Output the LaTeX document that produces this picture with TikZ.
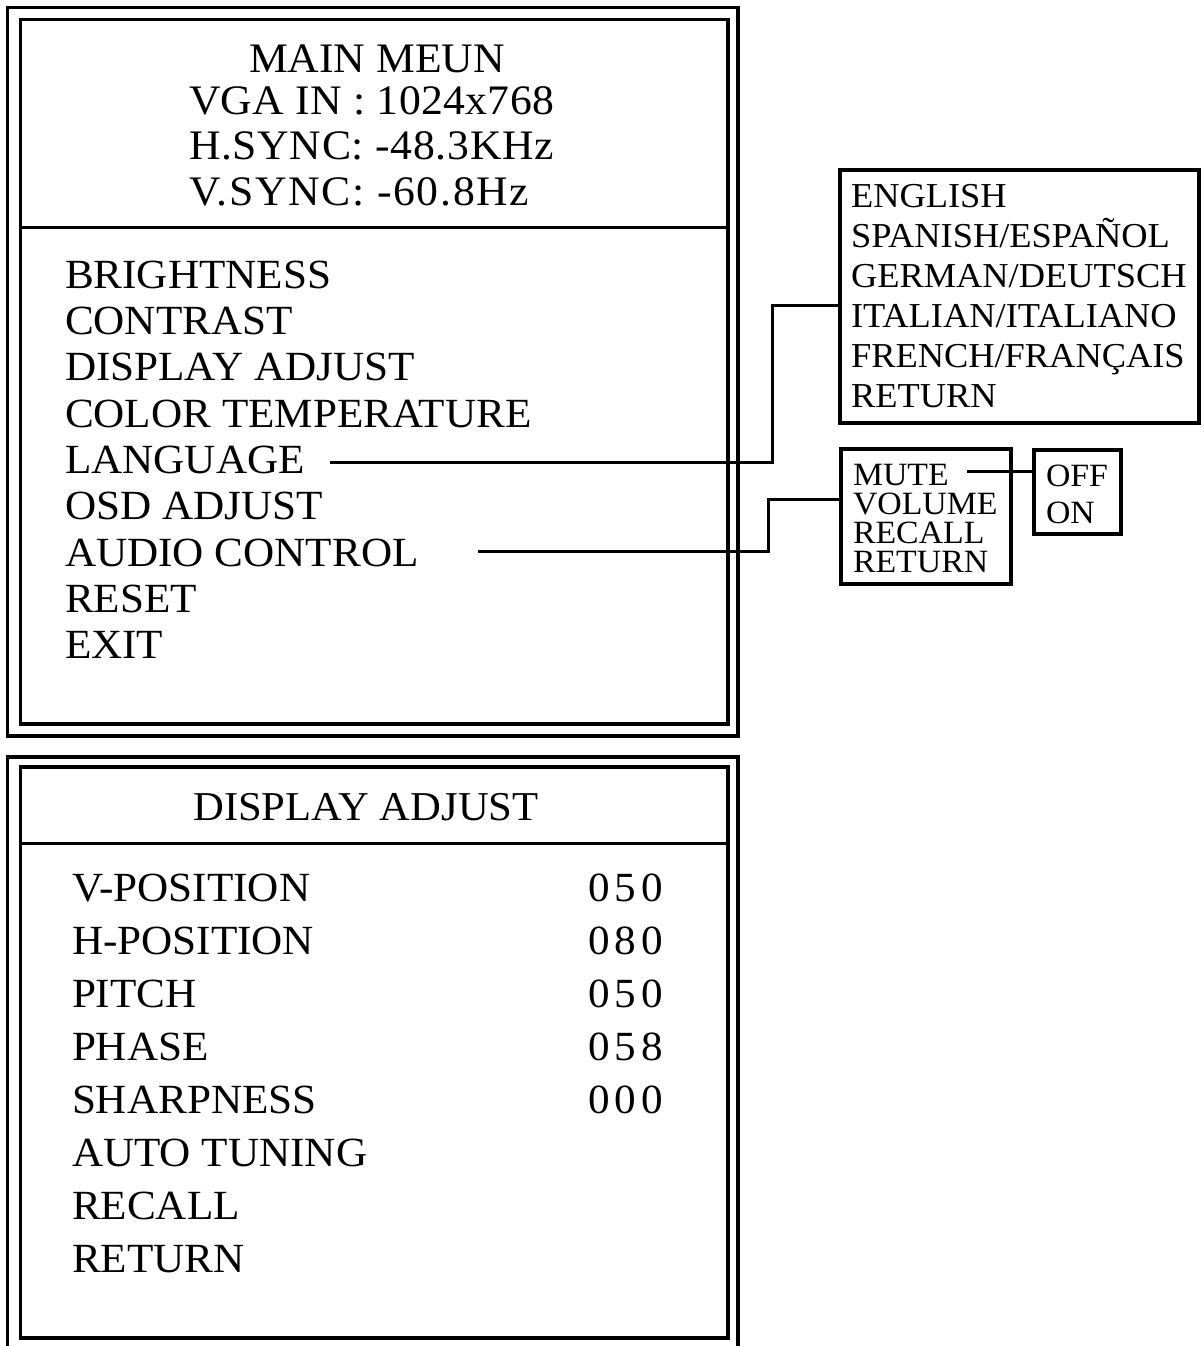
\documentclass[tikz,border=0pt]{standalone}
\usepackage{fontspec}
\setmainfont{Liberation Serif}[FakeStretch=1.04]
\newcommand\digs[3]{#1\kern5pt#2\kern5pt#3}
\begin{document}
\begin{tikzpicture}[x=1pt,y=-1pt,line width=3pt,
  frame/.style={draw,line width=3.2pt,inner sep=0pt,outer sep=0pt,anchor=north west},
  txt/.style={anchor=base west,inner sep=0pt,outer sep=0pt},
  hdr/.style={txt,font=\fontsize{42}{42}\selectfont},
  item/.style={txt,font=\fontsize{41.5}{41.5}\selectfont},
  lang/.style={txt,font=\fontsize{35}{35}\selectfont},
  aud/.style={txt,font=\fontsize{32.5}{32.5}\selectfont},
  link/.style={draw,line width=3pt}]
\useasboundingbox (0,0) rectangle (1204,1346);
\fill[white] (0,0) rectangle (1204,1346);

% ---------- main menu ----------
\node[frame,minimum width=730.5pt,minimum height=728.5pt] (mainout) at (7.5,7.5) {};
\node[frame,minimum width=707.5pt,minimum height=704.5pt] (mainin) at (20.5,19.5) {};
\coordinate (d1) at (0,227);
\draw (mainin.west |- d1) -- (mainin.east |- d1);

\node[hdr,anchor=base] (title) at (377,72) {MAIN MEUN};
\node[hdr] (vga) at (189,114) {\addfontfeature{LetterSpace=0.9}VGA IN : 1024x768};
\node[hdr] (hs) at (189,159) {\addfontfeature{LetterSpace=1.6}H.SYNC: -48.3KHz};
\node[hdr] (vs) at (189,205) {\addfontfeature{LetterSpace=4}V.SYNC: -60.8Hz};

\node[item] (m1) at (65,288) {BRIGHTNESS};
\node[item] (m2) at (65,334.3) {CONTRAST};
\node[item] (m3) at (65,380.7) {DISPLAY ADJUST};
\node[item] (m4) at (65,427) {COLOR TEMPERATURE};
\node[item] (m5) at (65,473.3) {LANGUAGE};
\node[item] (m6) at (65,519.7) {OSD ADJUST};
\node[item] (m7) at (65,566) {AUDIO CONTROL};
\node[item] (m8) at (65,612.3) {RESET};
\node[item] (m9) at (65,658.7) {EXIT};

% ---------- language box ----------
\node[frame,minimum width=359pt,minimum height=253pt] (langbox) at (840,170) {};
\node[lang] (l1) at (851,207) {ENGLISH};
\node[lang] (l2) at (851,247) {SPANISH/ESPAÑOL};
\node[lang] (l3) at (851,287) {GERMAN/DEUTSCH};
\node[lang] (l4) at (851,327) {ITALIAN/ITALIANO};
\node[lang] (l5) at (851,367) {FRENCH/FRANÇAIS};
\node[lang] (l6) at (851,407) {RETURN};

% ---------- audio box ----------
\node[frame,minimum width=170pt,minimum height=135pt] (audbox) at (841,449) {};
\node[aud] (a1) at (853,485) {MUTE};
\node[aud] (a2) at (853,514) {VOLUME};
\node[aud] (a3) at (853,543) {RECALL};
\node[aud] (a4) at (853,572) {RETURN};

\node[frame,minimum width=87pt,minimum height=84pt] (onoff) at (1034,450) {};
\node[aud] (o1) at (1046,486) {OFF};
\node[aud] (o2) at (1046,523) {ON};

% ---------- connectors ----------
\coordinate (ls) at (330,462);
\coordinate (lt) at (772,305);
\draw[link] (ls) -| (lt) -- (langbox.west |- lt);
\coordinate (as) at (478,551);
\coordinate (at2) at (768,499);
\draw[link] (as) -| (at2) -- (audbox.west |- at2);
\coordinate (ms) at (967,471);
\draw[link] (ms) -- (onoff.west |- ms);

% ---------- display adjust ----------
\node[frame,minimum width=730.5pt,minimum height=600pt] (dispout) at (7.5,757) {};
\node[frame,minimum width=707.5pt,minimum height=571pt] (dispin) at (20.5,767) {};
\coordinate (d2) at (0,843);
\draw (dispin.west |- d2) -- (dispin.east |- d2);

\node[item,font=\fontsize{41}{41}\selectfont,anchor=base] (dtitle) at (366,820) {DISPLAY ADJUST};
\node[item] (p1) at (72,901) {V-POSITION};
\node[item] (p2) at (72,954) {H-POSITION};
\node[item] (p3) at (72,1007) {PITCH};
\node[item] (p4) at (72,1060) {PHASE};
\node[item] (p5) at (72,1113) {SHARPNESS};
\node[item] (p6) at (72,1166) {AUTO TUNING};
\node[item] (p7) at (72,1219) {RECALL};
\node[item] (p8) at (72,1272) {RETURN};
\node[item] (v1) at (588,901) {\digs050};
\node[item] (v2) at (588,954) {\digs080};
\node[item] (v3) at (588,1007) {\digs050};
\node[item] (v4) at (588,1060) {\digs058};
\node[item] (v5) at (588,1113) {\digs000};
\end{tikzpicture}
\end{document}
